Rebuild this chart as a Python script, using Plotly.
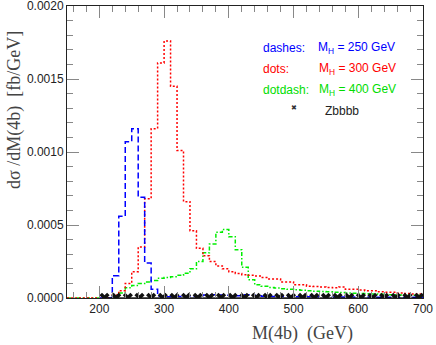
import plotly.graph_objects as go

# ---- data ----
bin_lo = list(range(150, 700, 10))  # lower bin edges, 10 GeV bins, 150..690
x_max = 700

blue_250 = [0, 0, 0, 0, 0, 0, 0, 0.000153, 0.00056, 0.00107, 0.00116, 0.00069, 0.00024, 0.00006,
            0.000012, 0.000008, 0.000008, 0.00001, 0.00001, 0.00001, 0.000015, 0.00002, 0.000022,
            0.00002, 0.000018, 0.000015, 0.000015, 0.000022, 0.000022, 0.000015, 0.000012,
            0.00001, 0.00001, 0.00001, 0.00001, 0.000009, 0.000009, 0.000008, 0.000008, 0.000008,
            0.000007, 0.000007, 0.000007, 0.000006, 0.000006, 0.000006, 0.000006, 0.000005,
            0.000005, 0.000005, 0.000005, 0.000005, 0.000005, 0.000005, 0.000005]

red_300 = [0, 0, 0, 0, 0, 0, 0, 0.00002, 0.00005, 0.0001, 0.00018, 0.00035, 0.00068, 0.00116,
           0.00161, 0.00176, 0.00145, 0.00101, 0.00066, 0.00046, 0.00034, 0.00029, 0.00025,
           0.00022, 0.0002, 0.00018, 0.000168, 0.00016, 0.000155, 0.00015, 0.00014, 0.00013,
           0.00013, 0.00011, 0.00011, 0.00009, 0.00009, 0.00008, 0.000078, 0.000075, 0.000072,
           0.00007, 0.000075, 0.00006, 0.00006, 0.000055, 0.00005, 0.00005, 0.000042, 0.00004,
           0.00004, 0.000035, 0.00003, 0.000028, 0.000027]

green_400 = [0, 0, 0, 0, 0, 0, 0, 0.00001, 0.000035, 0.00007, 0.000085, 0.0001, 0.00011, 0.00012,
             0.000135, 0.00014, 0.000145, 0.000155, 0.00017, 0.0002, 0.00025, 0.00031, 0.00037,
             0.00045, 0.00047, 0.00042, 0.00033, 0.00021, 0.000125, 0.00009, 0.00008, 0.000072,
             0.000068, 0.000064, 0.00006, 0.000056, 0.000053, 0.00005, 0.000047, 0.000044,
             0.000042, 0.00004, 0.000037, 0.000035, 0.000033, 0.00003, 0.000029, 0.000027,
             0.000025, 0.000023, 0.000022, 0.00002, 0.00002, 0.000019, 0.000018]

zbbbb_x = [208, 226, 244, 262, 280, 298, 316, 334, 352, 370, 388, 406, 424, 442, 460, 478, 496,
           514, 532, 550, 568, 586, 604, 622, 640, 658, 676, 694]
zbbbb_y = [0.000001] * len(zbbbb_x)

x_ticks = [200, 300, 400, 500, 600, 700]
y_ticks = [0.0, 0.0005, 0.0010, 0.0015, 0.0020]

# ---- layout geometry (pixels) ----
W, H = 436, 345
L, R, T, B = 67, 13, 6, 47
PW, PH = W - L - R, H - T - B


def px(xp):
    return (xp - L) / PW


def py(yp):
    return (H - B - yp) / PH


def step(vals, start=0):
    xs = bin_lo[start:] + [x_max]
    ys = vals[start:] + [vals[-1]]
    return xs, ys


fig = go.Figure()

gx, gy = step(green_400)
fig.add_trace(go.Scatter(x=gx, y=gy, mode="lines", line_shape="hv", hoverinfo="skip",
                         line=dict(color="#00ee00", width=1.5, dash="4px,2px,1.5px,2px")))
rx, ry = step(red_300)
fig.add_trace(go.Scatter(x=rx, y=ry, mode="lines", line_shape="hv", hoverinfo="skip",
                         line=dict(color="#ff0000", width=1.5, dash="2px,2px")))
bx, by = step(blue_250, 5)
fig.add_trace(go.Scatter(x=bx, y=by, mode="lines", line_shape="hv", hoverinfo="skip",
                         line=dict(color="#0000ff", width=1.5, dash="6px,3px")))
fig.add_trace(go.Scatter(x=zbbbb_x, y=zbbbb_y, mode="lines+markers", hoverinfo="skip",
                         line=dict(color="black", width=1),
                         marker=dict(symbol="x", size=9, color="#111111")))

axis_common = dict(
    showline=True, linecolor="#222222", linewidth=1, mirror="allticks",
    ticks="inside", ticklen=12, tickwidth=1, tickcolor="#888888",
    showgrid=False, zeroline=False, ticklabeloverflow="allow",
    tickfont=dict(family="Liberation Sans", size=12, color="#222222"),
)

fig.update_xaxes(range=[150, 700], tickvals=x_ticks, ticktext=[str(v) for v in x_ticks],
                 minor=dict(dtick=20, tick0=0, ticks="inside", ticklen=6, tickcolor="#888888"),
                 **axis_common)
fig.update_yaxes(range=[0, 0.002], tickvals=y_ticks, ticktext=[f"{v:.4f}" for v in y_ticks],
                 minor=dict(dtick=0.0001, tick0=0, ticks="inside", ticklen=6, tickcolor="#888888"),
                 **axis_common)

ann = []
serif = dict(family="Liberation Serif", size=18, color="#444444")
ann.append(dict(text="M(4b)\u00a0\u00a0(GeV)", x=px(302), y=py(333), xref="paper", yref="paper",
                showarrow=False, xanchor="center", yanchor="middle", font=serif))
ann.append(dict(text="dσ\u00a0/dM(4b)\u00a0\u00a0[fb/GeV]", x=px(14), y=py(110), xref="paper",
                yref="paper", showarrow=False, xanchor="center", yanchor="middle",
                textangle=-90, font=serif))

leg = [
    ("dashes:", "M<sub>H</sub> = 250 GeV", "#0000ff", 48, 316),
    ("dots:", "M<sub>H</sub> = 300 GeV", "#ff0000", 69, 317),
    ("dotdash:", "M<sub>H</sub> = 400 GeV", "#00dd00", 90, 317),
]
for lab, mh, col, yp, xm in leg:
    f = dict(family="Liberation Sans", size=12, color=col)
    ann.append(dict(text=lab, x=px(261), y=py(yp), xref="paper", yref="paper", showarrow=False,
                    xanchor="left", yanchor="middle", font=f))
    ann.append(dict(text=mh, x=px(xm), y=py(yp), xref="paper", yref="paper", showarrow=False,
                    xanchor="left", yanchor="middle", font=f))
ann.append(dict(text="✖", x=px(294), y=py(108), xref="paper", yref="paper", showarrow=False,
                xanchor="center", yanchor="middle",
                font=dict(family="DejaVu Sans", size=7, color="#333333")))
ann.append(dict(text="Zbbbb", x=px(323), y=py(111), xref="paper", yref="paper", showarrow=False,
                xanchor="left", yanchor="middle",
                font=dict(family="Liberation Sans", size=12, color="#222222")))

fig.update_layout(width=W, height=H, margin=dict(l=L, r=R, t=T, b=B, autoexpand=False),
                  plot_bgcolor="white", paper_bgcolor="white", showlegend=False,
                  hovermode=False, annotations=ann)

fig.write_html("out.html", config={"displayModeBar": False},
               post_script="document.body.style.margin='0';document.body.style.overflow='hidden';")
